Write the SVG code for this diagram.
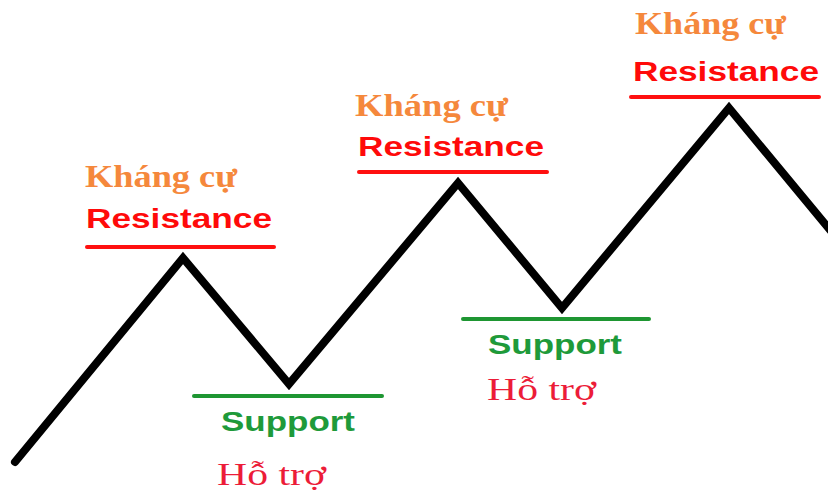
<svg xmlns="http://www.w3.org/2000/svg" width="828" height="491" viewBox="0 0 828 491">
<style>
.kc{font-family:"Liberation Serif","Times New Roman",serif;font-weight:bold;font-size:32px;fill:#F5883C}
.res{font-family:"Liberation Sans",Arial,sans-serif;font-weight:bold;font-size:27px;fill:#FF0A0A}
.sup{font-family:"Liberation Sans",Arial,sans-serif;font-weight:bold;font-size:28px;fill:#1E9A3A}
.ht{font-family:"Liberation Serif","Times New Roman",serif;font-size:32px;fill:#EC1C38}
.rl{stroke:#FF1010;stroke-width:4;stroke-linecap:round}
.gl{stroke:#1E9632;stroke-width:4;stroke-linecap:round}
.price{fill:none;stroke:#000;stroke-width:8;stroke-linejoin:miter;stroke-linecap:round}
</style>
<rect width="828" height="491" fill="#fff"/>
<g id="connectors">
<polyline class="price" points="15,462 183,258 289,384 458,183 562,308 729,108 840,242"/>
</g>
<g id="resistance1">
<text class="kc" x="85" y="187" textLength="152" lengthAdjust="spacingAndGlyphs">Kháng cự</text>
<text class="res" x="86" y="228" textLength="186" lengthAdjust="spacingAndGlyphs">Resistance</text>
<line class="rl" x1="87" y1="247" x2="274" y2="247"/>
</g>
<g id="resistance2">
<text class="kc" x="355" y="116" textLength="153" lengthAdjust="spacingAndGlyphs">Kháng cự</text>
<text class="res" x="358" y="156" textLength="186" lengthAdjust="spacingAndGlyphs">Resistance</text>
<line class="rl" x1="359" y1="172" x2="547" y2="172"/>
</g>
<g id="resistance3">
<text class="kc" x="635" y="34" textLength="151" lengthAdjust="spacingAndGlyphs">Kháng cự</text>
<text class="res" x="633" y="81" textLength="186" lengthAdjust="spacingAndGlyphs">Resistance</text>
<line class="rl" x1="631" y1="97" x2="819" y2="97"/>
</g>
<g id="support1">
<line class="gl" x1="194" y1="396" x2="382" y2="396"/>
<text class="sup" x="221" y="431" textLength="134" lengthAdjust="spacingAndGlyphs">Support</text>
<text class="ht" x="217" y="485" textLength="109" lengthAdjust="spacingAndGlyphs">Hỗ trợ</text>
</g>
<g id="support2">
<line class="gl" x1="463" y1="319" x2="649" y2="319"/>
<text class="sup" x="488" y="354" textLength="134" lengthAdjust="spacingAndGlyphs">Support</text>
<text class="ht" x="487" y="400" textLength="109" lengthAdjust="spacingAndGlyphs">Hỗ trợ</text>
</g>
</svg>
